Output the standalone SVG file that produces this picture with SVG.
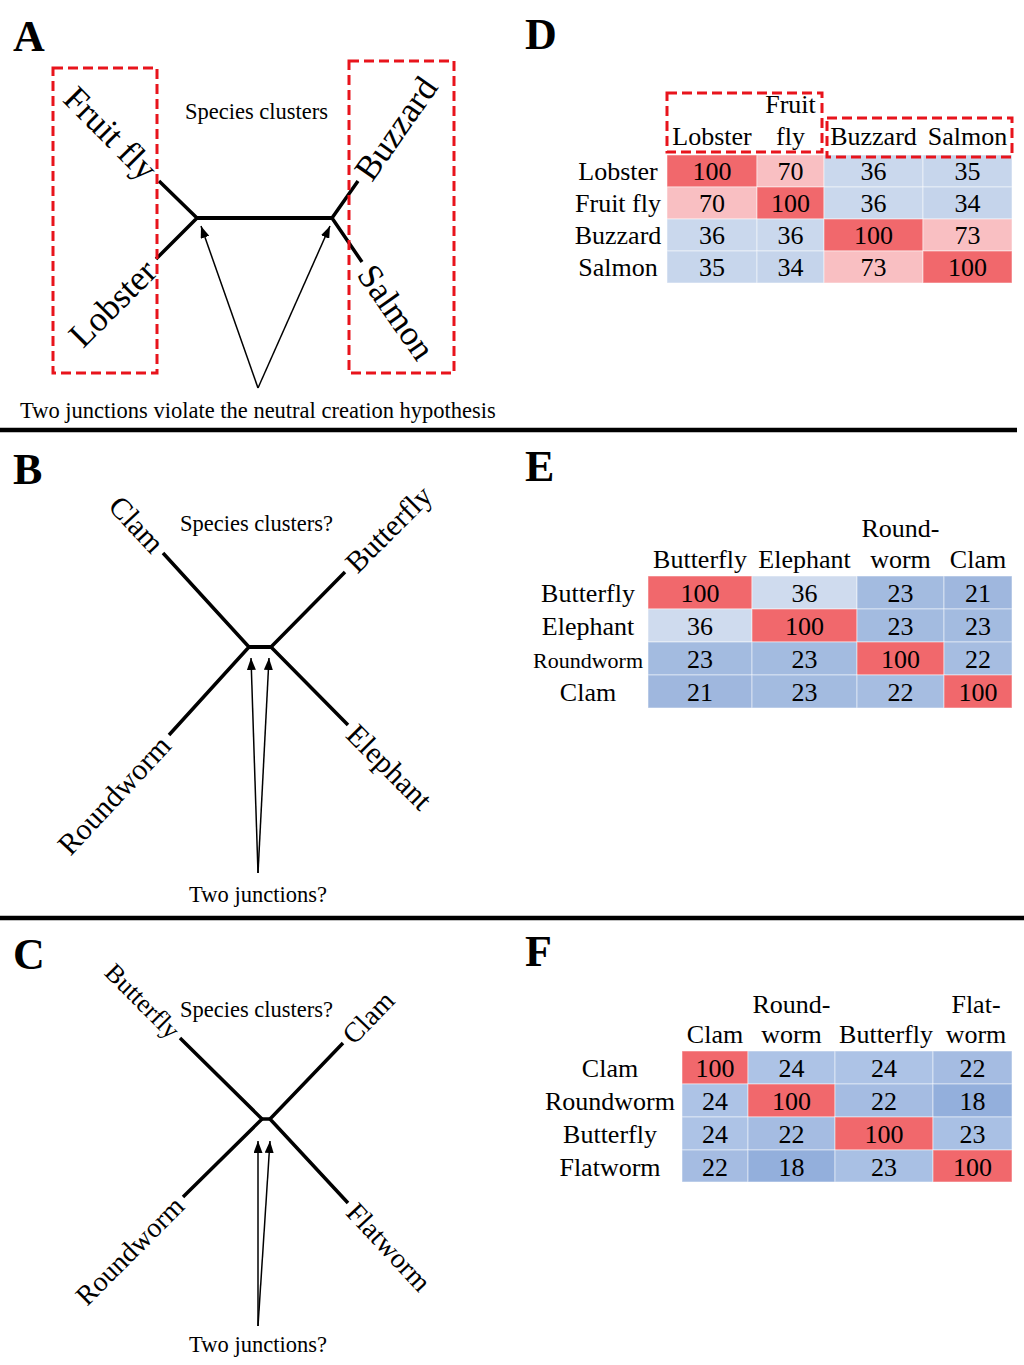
<svg xmlns="http://www.w3.org/2000/svg" width="1024" height="1365" viewBox="0 0 1024 1365">
<style>
text{font-family:"Liberation Serif","Times New Roman",serif;fill:#000}
.pl{font-size:44px;font-weight:bold}
.note{font-size:22.5px}
.la{font-size:35px}
.lab{font-size:30px}
.lc{font-size:28px}
.tb{font-size:26px;text-anchor:middle}
.br{stroke:#000;stroke-width:3.5;fill:none}
.ar{stroke:#000;stroke-width:1.5;fill:none;marker-end:url(#ah)}
.dash{fill:none;stroke:#e8141c;stroke-width:3;stroke-dasharray:10 5}
.sep{stroke:#000;stroke-width:4.5}
.c rect{stroke:#fff;stroke-width:1;stroke-opacity:0.5}
.R{fill:#f1686c}.P{fill:#f9bfc2}
.d36{fill:#cad8ed}.d35{fill:#c7d6ec}.d34{fill:#c5d4eb}
.e36{fill:#cfdbee}.e23{fill:#a3bbe0}.e22{fill:#a6bde1}.e21{fill:#9fb7de}
.f24{fill:#adc3e6}.f23{fill:#a9c0e4}.f22{fill:#a5bce2}.f18{fill:#93afdc}
</style>
<defs>
<marker id="ah" markerUnits="userSpaceOnUse" markerWidth="12" markerHeight="9" refX="12" refY="4.5" orient="auto">
<path d="M0,0 L12,4.5 L0,9 z" fill="#000"/>
</marker>
</defs>
<rect width="1024" height="1365" fill="#fff"/>

<g id="separators">
<line class="sep" x1="0" y1="430" x2="1017" y2="430"/>
<line class="sep" x1="0" y1="918" x2="1024" y2="918"/>
</g>

<g id="panel-letters">
<text class="pl" x="13" y="51">A</text>
<text class="pl" x="525" y="49">D</text>
<text class="pl" x="13" y="484">B</text>
<text class="pl" x="525" y="481">E</text>
<text class="pl" x="13" y="969">C</text>
<text class="pl" x="525" y="966">F</text>
</g>

<g id="connectors">
<!-- Panel A tree -->
<polyline class="br" points="159,181 197,218 156,259"/>
<line class="br" x1="197" y1="218" x2="332" y2="218" style="stroke-width:4"/>
<polyline class="br" points="358,181 332,218 362,262"/>
<line class="ar" x1="258" y1="388" x2="201" y2="226"/>
<line class="ar" x1="258" y1="388" x2="330" y2="226"/>
<!-- Panel B tree -->
<polyline class="br" points="163,553 249,647 169,735"/>
<line class="br" x1="249" y1="647" x2="271" y2="647" style="stroke-width:4"/>
<polyline class="br" points="345,572 271,647 348,725"/>
<line class="ar" x1="258" y1="873" x2="251" y2="658"/>
<line class="ar" x1="258" y1="873" x2="269" y2="658"/>
<!-- Panel C tree -->
<polyline class="br" points="180,1038 262,1119 183,1197"/>
<line class="br" x1="262" y1="1119" x2="270" y2="1119"/>
<polyline class="br" points="343,1043 270,1119 348,1203"/>
<line class="ar" x1="258" y1="1326" x2="258" y2="1141"/>
<line class="ar" x1="258" y1="1326" x2="270" y2="1141"/>
</g>

<g id="panelA">
<rect class="dash" x="53" y="68" width="104" height="305"/>
<rect class="dash" x="349" y="61" width="105" height="312"/>
<text class="note" x="256.5" y="119" text-anchor="middle">Species clusters</text>
<text class="note" x="20" y="418">Two junctions violate the neutral creation hypothesis</text>
<g id="A-fruitfly"><text class="la" text-anchor="end" dy="0.35em" transform="translate(152,174) rotate(45)">Fruit fly</text></g>
<g id="A-lobster"><text class="la" text-anchor="end" dy="0.35em" transform="translate(150,265) rotate(-45)">Lobster</text></g>
<g id="A-buzzard"><text class="la" text-anchor="start" dy="0.35em" transform="translate(362,176) rotate(-55)">Buzzard</text></g>
<g id="A-salmon"><text class="la" text-anchor="start" dy="0.35em" transform="translate(366,268) rotate(55)">Salmon</text></g>
</g>

<g id="panelB">
<text class="note" x="256.5" y="531" text-anchor="middle">Species clusters?</text>
<text class="note" x="258" y="902" text-anchor="middle">Two junctions?</text>
<g id="B-clam"><text class="lab" text-anchor="end" dy="0.35em" transform="translate(159,548) rotate(47)">Clam</text></g>
<g id="B-butterfly"><text class="lab" text-anchor="start" dy="0.35em" transform="translate(350,567) rotate(-45)">Butterfly</text></g>
<g id="B-roundworm"><text class="lab" text-anchor="end" dy="0.35em" transform="translate(165,740) rotate(-47)">Roundworm</text></g>
<g id="B-elephant"><text class="lab" text-anchor="start" dy="0.35em" transform="translate(352,729) rotate(45)">Elephant</text></g>
</g>

<g id="panelC">
<text class="note" x="256.5" y="1017" text-anchor="middle">Species clusters?</text>
<text class="note" x="258" y="1352" text-anchor="middle">Two junctions?</text>
<g id="C-butterfly"><text style="font-size:26px" text-anchor="end" dy="0.35em" transform="translate(176,1034) rotate(45)">Butterfly</text></g>
<g id="C-clam"><text class="lc" text-anchor="start" dy="0.35em" transform="translate(347,1039) rotate(-46)">Clam</text></g>
<g id="C-roundworm"><text class="lc" text-anchor="end" dy="0.35em" transform="translate(179,1201) rotate(-45)">Roundworm</text></g>
<g id="C-flatworm"><text class="lc" text-anchor="start" dy="0.35em" transform="translate(352,1207) rotate(47)">Flatworm</text></g>
</g>

<g id="tableD">
<g class="c">
<rect class="R" x="667" y="155" width="90" height="32"/><rect class="P" x="757" y="155" width="67" height="32"/><rect class="d36" x="824" y="155" width="99" height="32"/><rect class="d35" x="923" y="155" width="89" height="32"/>
<rect class="P" x="667" y="187" width="90" height="32"/><rect class="R" x="757" y="187" width="67" height="32"/><rect class="d36" x="824" y="187" width="99" height="32"/><rect class="d34" x="923" y="187" width="89" height="32"/>
<rect class="d36" x="667" y="219" width="90" height="32"/><rect class="d36" x="757" y="219" width="67" height="32"/><rect class="R" x="824" y="219" width="99" height="32"/><rect class="P" x="923" y="219" width="89" height="32"/>
<rect class="d35" x="667" y="251" width="90" height="32"/><rect class="d34" x="757" y="251" width="67" height="32"/><rect class="P" x="824" y="251" width="99" height="32"/><rect class="R" x="923" y="251" width="89" height="32"/>
</g>
<text class="tb" x="712" y="145">Lobster</text>
<text class="tb" x="790.5" y="113">Fruit</text>
<text class="tb" x="790.5" y="145">fly</text>
<text class="tb" x="873.5" y="145">Buzzard</text>
<text class="tb" x="967.5" y="145">Salmon</text>
<text class="tb" x="618" y="179.5">Lobster</text>
<text class="tb" x="618" y="211.5">Fruit fly</text>
<text class="tb" x="618" y="243.5">Buzzard</text>
<text class="tb" x="618" y="275.5">Salmon</text>
<text class="tb" x="712" y="179.5">100</text><text class="tb" x="790.5" y="179.5">70</text><text class="tb" x="873.5" y="179.5">36</text><text class="tb" x="967.5" y="179.5">35</text>
<text class="tb" x="712" y="211.5">70</text><text class="tb" x="790.5" y="211.5">100</text><text class="tb" x="873.5" y="211.5">36</text><text class="tb" x="967.5" y="211.5">34</text>
<text class="tb" x="712" y="243.5">36</text><text class="tb" x="790.5" y="243.5">36</text><text class="tb" x="873.5" y="243.5">100</text><text class="tb" x="967.5" y="243.5">73</text>
<text class="tb" x="712" y="275.5">35</text><text class="tb" x="790.5" y="275.5">34</text><text class="tb" x="873.5" y="275.5">73</text><text class="tb" x="967.5" y="275.5">100</text>
<rect class="dash" x="667" y="93" width="155" height="59"/>
<rect class="dash" x="827" y="118" width="185" height="39"/>
</g>

<g id="tableE">
<g class="c">
<rect class="R" x="648" y="576" width="104" height="33"/><rect class="e36" x="752" y="576" width="105" height="33"/><rect class="e23" x="857" y="576" width="87" height="33"/><rect class="e21" x="944" y="576" width="68" height="33"/>
<rect class="e36" x="648" y="609" width="104" height="33"/><rect class="R" x="752" y="609" width="105" height="33"/><rect class="e23" x="857" y="609" width="87" height="33"/><rect class="e23" x="944" y="609" width="68" height="33"/>
<rect class="e23" x="648" y="642" width="104" height="33"/><rect class="e23" x="752" y="642" width="105" height="33"/><rect class="R" x="857" y="642" width="87" height="33"/><rect class="e22" x="944" y="642" width="68" height="33"/>
<rect class="e21" x="648" y="675" width="104" height="33"/><rect class="e23" x="752" y="675" width="105" height="33"/><rect class="e22" x="857" y="675" width="87" height="33"/><rect class="R" x="944" y="675" width="68" height="33"/>
</g>
<text class="tb" x="700" y="568">Butterfly</text>
<text class="tb" x="804.5" y="568">Elephant</text>
<text class="tb" x="900.5" y="537">Round-</text>
<text class="tb" x="900.5" y="568">worm</text>
<text class="tb" x="978" y="568">Clam</text>
<text class="tb" x="588" y="602">Butterfly</text>
<text class="tb" x="588" y="635">Elephant</text>
<text class="tb" x="588" y="668" style="font-size:22px">Roundworm</text>
<text class="tb" x="588" y="701">Clam</text>
<text class="tb" x="700" y="602">100</text><text class="tb" x="804.5" y="602">36</text><text class="tb" x="900.5" y="602">23</text><text class="tb" x="978" y="602">21</text>
<text class="tb" x="700" y="635">36</text><text class="tb" x="804.5" y="635">100</text><text class="tb" x="900.5" y="635">23</text><text class="tb" x="978" y="635">23</text>
<text class="tb" x="700" y="668">23</text><text class="tb" x="804.5" y="668">23</text><text class="tb" x="900.5" y="668">100</text><text class="tb" x="978" y="668">22</text>
<text class="tb" x="700" y="701">21</text><text class="tb" x="804.5" y="701">23</text><text class="tb" x="900.5" y="701">22</text><text class="tb" x="978" y="701">100</text>
</g>

<g id="tableF">
<g class="c">
<rect class="R" x="682" y="1051" width="66" height="33"/><rect class="f24" x="748" y="1051" width="87" height="33"/><rect class="f24" x="835" y="1051" width="98" height="33"/><rect class="f22" x="933" y="1051" width="79" height="33"/>
<rect class="f24" x="682" y="1084" width="66" height="33"/><rect class="R" x="748" y="1084" width="87" height="33"/><rect class="f22" x="835" y="1084" width="98" height="33"/><rect class="f18" x="933" y="1084" width="79" height="33"/>
<rect class="f24" x="682" y="1117" width="66" height="33"/><rect class="f22" x="748" y="1117" width="87" height="33"/><rect class="R" x="835" y="1117" width="98" height="33"/><rect class="f23" x="933" y="1117" width="79" height="33"/>
<rect class="f22" x="682" y="1150" width="66" height="32"/><rect class="f18" x="748" y="1150" width="87" height="32"/><rect class="f23" x="835" y="1150" width="98" height="32"/><rect class="R" x="933" y="1150" width="79" height="32"/>
</g>
<text class="tb" x="715" y="1043">Clam</text>
<text class="tb" x="791.5" y="1013">Round-</text>
<text class="tb" x="791.5" y="1043">worm</text>
<text class="tb" x="886" y="1043">Butterfly</text>
<text class="tb" x="976" y="1013">Flat-</text>
<text class="tb" x="976" y="1043">worm</text>
<text class="tb" x="610" y="1077">Clam</text>
<text class="tb" x="610" y="1110">Roundworm</text>
<text class="tb" x="610" y="1143">Butterfly</text>
<text class="tb" x="610" y="1176">Flatworm</text>
<text class="tb" x="715" y="1077">100</text><text class="tb" x="791.5" y="1077">24</text><text class="tb" x="884" y="1077">24</text><text class="tb" x="972.5" y="1077">22</text>
<text class="tb" x="715" y="1110">24</text><text class="tb" x="791.5" y="1110">100</text><text class="tb" x="884" y="1110">22</text><text class="tb" x="972.5" y="1110">18</text>
<text class="tb" x="715" y="1143">24</text><text class="tb" x="791.5" y="1143">22</text><text class="tb" x="884" y="1143">100</text><text class="tb" x="972.5" y="1143">23</text>
<text class="tb" x="715" y="1176">22</text><text class="tb" x="791.5" y="1176">18</text><text class="tb" x="884" y="1176">23</text><text class="tb" x="972.5" y="1176">100</text>
</g>
</svg>
